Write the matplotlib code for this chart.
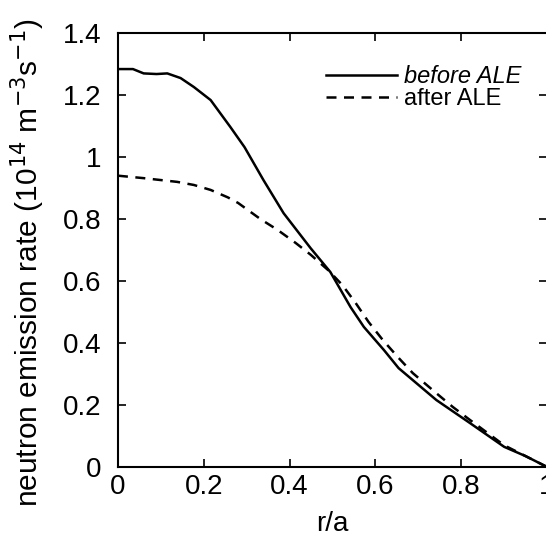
import numpy as np
import matplotlib
matplotlib.use('Agg')
import matplotlib.pyplot as plt

plt.rcParams['font.family'] = ['Liberation Sans', 'DejaVu Sans']

# profiles
r_before = [0, 0.035, 0.06, 0.09, 0.115, 0.146, 0.177, 0.216, 0.262, 0.295,
            0.339, 0.386, 0.449, 0.495, 0.542, 0.573, 0.62, 0.654, 0.742,
            0.82, 0.9, 0.95, 1.0]
before = [1.284, 1.284, 1.27, 1.268, 1.27, 1.255, 1.226, 1.184, 1.097, 1.032,
          0.926, 0.819, 0.706, 0.629, 0.516, 0.452, 0.377, 0.319, 0.216,
          0.142, 0.065, 0.035, 0.0]

r_after = [0, 0.06, 0.138, 0.177, 0.216, 0.256, 0.28, 0.332, 0.372, 0.414,
           0.449, 0.49, 0.523, 0.554, 0.584, 0.617, 0.654, 0.687, 0.742,
           0.78, 0.82, 0.9, 0.95, 1.0]
after = [0.94, 0.932, 0.92, 0.91, 0.894, 0.87, 0.852, 0.8, 0.765, 0.723,
         0.685, 0.635, 0.587, 0.529, 0.468, 0.41, 0.352, 0.303, 0.238,
         0.194, 0.152, 0.07, 0.035, 0.0]

xticks = [0, 0.2, 0.4, 0.6, 0.8, 1.0]
xticklabels = ['0', '0.2', '0.4', '0.6', '0.8', '1']
yticks = [0, 0.2, 0.4, 0.6, 0.8, 1.0, 1.2, 1.4]
yticklabels = ['0', '0.2', '0.4', '0.6', '0.8', '1', '1.2', '1.4']

fig = plt.figure(figsize=(5.46, 5.43), dpi=100)
ax = fig.add_axes([0.216, 0.14, 0.786, 0.799])

ax.plot(r_before, before, color='k', lw=1.8, label='before ALE')
ax.plot(r_after, after, color='k', lw=1.8, ls=(0, (4, 3)), label='after ALE')

ax.set_xlim(0, 1.0)
ax.set_ylim(0, 1.4)
ax.set_xticks(xticks)
ax.set_xticklabels(xticklabels)
ax.set_yticks(yticks)
ax.set_yticklabels(yticklabels)
ax.tick_params(direction='in', length=6, width=1.2, top=True, right=True,
               labelsize=20)
ax.tick_params(axis='y', pad=12)
ax.tick_params(axis='x', pad=5)
for s in ax.spines.values():
    s.set_linewidth(1.5)

ax.set_xlabel('r/a', fontsize=20, labelpad=8)
ax.set_ylabel('neutron emission rate (10$^{14}$ m$^{-3}$s$^{-1}$)', fontsize=21.5)
ax.yaxis.set_label_coords(-0.165, 0.47)

leg = ax.legend(loc='upper right', frameon=False, fontsize=17,
                handlelength=3.0, handletextpad=0.3, labelspacing=0.0,
                borderaxespad=0.5, bbox_to_anchor=(0.99, 0.975))
leg.get_texts()[0].set_style('italic')

fig.savefig('out.png', dpi=100)
